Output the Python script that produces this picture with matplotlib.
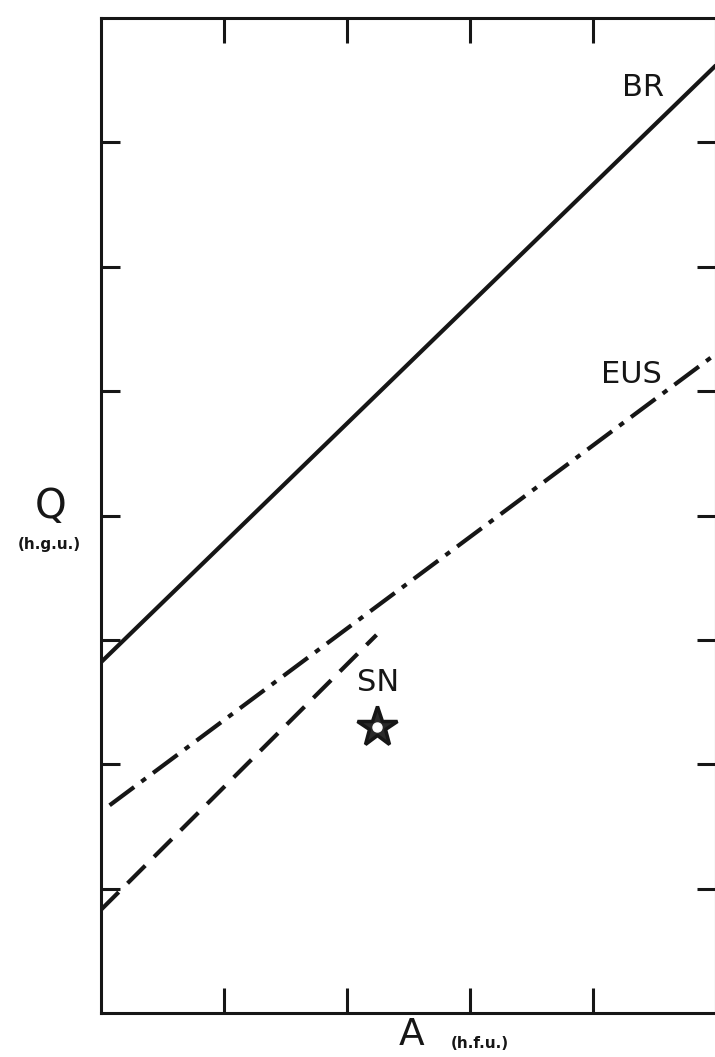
import matplotlib
matplotlib.use("Agg")
import matplotlib.pyplot as plt

# Heat flow (A, h.f.u.) vs. reduced heat flow relation lines (Q, h.g.u.)
x_br = [0.0, 5.0]
q_br = [2.82, 7.62]

x_eus = [0.07, 5.0]
q_eus = [1.67, 5.30]

x_sn = [0.0, 2.24]
q_sn = [0.83, 3.04]

sn_point_x = [2.24]
sn_point_q = [2.30]

x_ticks = [1, 2, 3, 4]
y_ticks = [1, 2, 3, 4, 5, 6, 7]

ink = "#161616"
plt.rcParams["font.family"] = ["DejaVu Sans"]
plt.rcParams["lines.scale_dashes"] = False

fig = plt.figure(figsize=(7.15, 10.57), dpi=100)
W, H = 715, 1057
left_px, right_px, top_px, bottom_px = 101, 716, 18, 1013
ax = fig.add_axes([left_px / W, 1 - bottom_px / H,
                   (right_px - left_px) / W, (bottom_px - top_px) / H])

ax.set_xlim(0, 5)
ax.set_ylim(0, 8)

lw = 3.0
ax.plot(x_br, q_br, color=ink, lw=lw, solid_capstyle="butt")
ax.plot(x_eus, q_eus, color=ink, lw=lw, dashes=(22, 6.5, 4, 6.5),
        dash_capstyle="butt")
ax.plot(x_sn, q_sn, color=ink, lw=lw, dashes=(18, 9), dash_capstyle="butt")

# SN site marker: dark star with a white centre
ax.plot(sn_point_x, sn_point_q, marker="*", markersize=30, color="#2a2a2a",
        markeredgecolor=ink, markeredgewidth=2.5, linestyle="none")
ax.plot(sn_point_x, sn_point_q, marker="o", markersize=6.5, color="white",
        markeredgecolor="white", linestyle="none")

ax.text(4.41, 7.44, "BR", fontsize=22, color=ink, ha="center", va="center")
ax.text(4.31, 5.13, "EUS", fontsize=22, color=ink, ha="center", va="center")
ax.text(2.25, 2.66, "SN", fontsize=22, color=ink, ha="center", va="center")

# Frame and inward ticks on all four sides
for s in ax.spines.values():
    s.set_linewidth(2.2)
    s.set_color(ink)
ax.set_xticks(x_ticks)
ax.set_yticks(y_ticks)
ax.tick_params(axis="x", direction="in", length=18, width=2.2, color=ink,
               top=True, bottom=True, labelbottom=False, labeltop=False)
ax.tick_params(axis="y", direction="in", length=14, width=2.2, color=ink,
               left=True, right=True, labelleft=False, labelright=False)

# Axis titles
fig.text(51 / W, 1 - 507 / H, "Q", fontsize=29, color=ink,
         ha="center", va="center")
fig.text(49 / W, 1 - 545 / H, "(h.g.u.)", fontsize=11, fontweight="bold",
         color=ink, ha="center", va="center")
fig.text(412 / W, 1 - 1035 / H, "A", fontsize=27, color=ink,
         ha="center", va="center")
fig.text(480 / W, 1 - 1043 / H, "(h.f.u.)", fontsize=11, fontweight="bold",
         color=ink, ha="center", va="center")

fig.savefig("out.png", dpi=100)
